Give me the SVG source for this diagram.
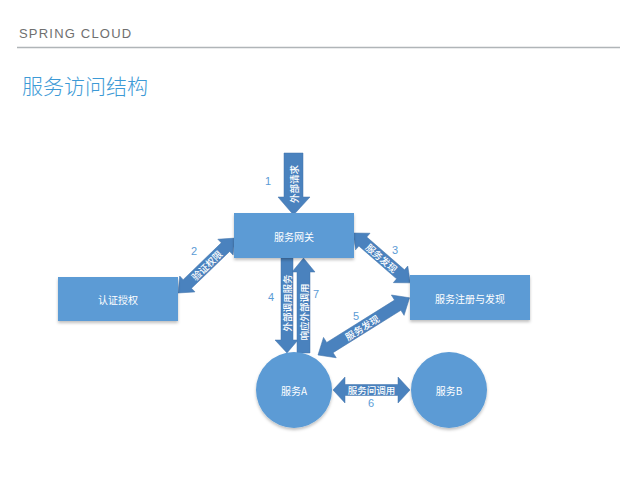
<svg xmlns="http://www.w3.org/2000/svg" width="640" height="480" viewBox="0 0 640 480">
<defs>
<filter id="sh" x="-20%" y="-20%" width="140%" height="150%">
<feDropShadow dx="0" dy="2" stdDeviation="1.5" flood-color="#000" flood-opacity="0.25"/>
</filter>
</defs>
<style>
.node{fill:#5b9bd5;filter:url(#sh)}
.arr{fill:#4a82be;stroke:#4373aa;stroke-width:0.5}
.nt{font-family:"Noto Sans CJK SC","Liberation Sans",sans-serif;font-size:10px;fill:#fff;text-anchor:middle;dominant-baseline:central}
.at{font-family:"Noto Sans CJK SC","Liberation Sans",sans-serif;font-size:9.5px;font-weight:500;fill:#fff;text-anchor:middle;dominant-baseline:central}
.num{font-family:"Liberation Sans",sans-serif;font-size:11px;fill:#5b9bd5;text-anchor:middle}
</style>
<rect width="640" height="480" fill="#fff"/>
<text x="19" y="38" font-family="'Liberation Sans',sans-serif" font-size="13" letter-spacing="1.2" fill="#6f6f6f">SPRING CLOUD</text>
<line x1="17" y1="47.5" x2="620" y2="47.5" stroke="#b0b5b8" stroke-width="1.5"/>
<text x="22" y="94" font-family="'Noto Sans CJK SC',sans-serif" font-size="21" font-weight="300" fill="#3d9ad6">服务访问结构</text>

<g id="connectors">
<g id="c1">
<polygon class="arr" points="284,153 303,153 303,197 310,197 293.5,215 278,197 284,197"/>
<text class="at" transform="translate(293.5,184) rotate(-90)">外部请求</text>
</g>
<g id="c2" transform="translate(178,293) rotate(-44)">
<polygon class="arr" points="0,0 13,-11 13,-6 66,-6 66,-11 79,0 66,11 66,6 13,6 13,11"/>
<text class="at" x="40" y="0">验证权限</text>
</g>
<g id="c3" transform="translate(353,233) rotate(41)">
<polygon class="arr" points="0,0 13,-11 13,-6 63,-6 63,-11 76,0 63,11 63,6 13,6 13,11"/>
<text class="at" x="38" y="0">服务发现</text>
</g>
<g id="c5" transform="translate(318,355) rotate(-32)">
<polygon class="arr" points="0,0 14,-12 14,-6 94,-6 94,-12 108,0 94,12 94,6 14,6 14,12"/>
<text class="at" x="52" y="0">服务发现</text>
</g>
<g id="c4">
<polygon class="arr" points="281,258 293,258 293,340 298,340 287,353 275,340 281,340"/>
<text class="at" transform="translate(287,303) rotate(-90)">外部调用服务</text>
</g>
<g id="c7">
<polygon class="arr" points="297,353 310,353 310,272 315,272 303.5,258 292,272 297,272"/>
<text class="at" transform="translate(303.5,312) rotate(-90)">响应外部调用</text>
</g>
<g id="c6">
<polygon class="arr" points="333,390 345,377 345,384.5 398,384.5 398,377 410,390 398,403 398,395.5 345,395.5 345,403"/>
<text class="at" x="371.5" y="390">服务间调用</text>
</g>
<text class="num" x="268" y="185">1</text>
<text class="num" x="194" y="255">2</text>
<text class="num" x="395" y="254">3</text>
<text class="num" x="271" y="301">4</text>
<text class="num" x="356" y="320">5</text>
<text class="num" x="371" y="407">6</text>
<text class="num" x="316" y="298">7</text>
</g>

<g id="gateway">
<rect class="node" x="234" y="213" width="120" height="45"/>
<text class="nt" x="294" y="236">服务网关</text>
</g>
<g id="auth">
<rect class="node" x="58" y="277" width="120" height="44"/>
<text class="nt" x="118" y="299">认证授权</text>
</g>
<g id="registry">
<rect class="node" x="410" y="275" width="120" height="45"/>
<text class="nt" x="470" y="298">服务注册与发现</text>
</g>
<g id="serviceA">
<circle class="node" cx="294" cy="390" r="38"/>
<text class="nt" x="294" y="390">服务A</text>
</g>
<g id="serviceB">
<circle class="node" cx="449" cy="390" r="38"/>
<text class="nt" x="449" y="390">服务B</text>
</g>
</svg>
